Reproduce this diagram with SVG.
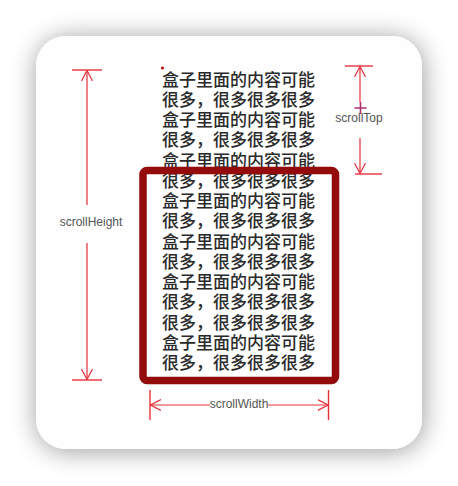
<svg xmlns="http://www.w3.org/2000/svg" width="458" height="486" viewBox="0 0 458 486">
  <defs>
    <filter id="shadow" x="-20%" y="-20%" width="140%" height="140%">
      <feGaussianBlur in="SourceAlpha" stdDeviation="13"/>
      <feOffset dx="1" dy="2" result="b"/>
      <feComponentTransfer><feFuncA type="linear" slope="0.4"/></feComponentTransfer>
      <feMerge><feMergeNode/><feMergeNode in="SourceGraphic"/></feMerge>
    </filter>
    <marker id="arr" viewBox="0 0 11 12" refX="10.5" refY="6" markerWidth="11" markerHeight="12" markerUnits="userSpaceOnUse" orient="auto">
      <path d="M0,0.5 L10.5,6 L0,11.5" fill="none" stroke="#e8303a" stroke-width="1.2"/>
    </marker>
    <style>
      .dim { stroke: #e8303a; stroke-width: 1.2; fill: none; }
      .tick { stroke: #e8303a; stroke-width: 1.4; fill: none; }
      .lbl { font-family: "Liberation Sans", Arial, sans-serif; font-size: 12px; fill: #555; text-anchor: middle; }
      .cn { font-family: "Noto Sans CJK SC", "Noto Sans", sans-serif; font-size: 17px; font-weight: 500; fill: #2a2a2a; }
    </style>
  </defs>

  <rect width="458" height="486" fill="#ffffff"/>
  <rect id="card" x="36" y="36" width="386" height="413" rx="30" ry="30" fill="#fdfefd" filter="url(#shadow)"/>

  <g id="content-text" class="cn">
    <text x="162" y="85.5">盒子里面的内容可能</text>
    <text x="162" y="105.75">很多，很多很多很多</text>
    <text x="162" y="126">盒子里面的内容可能</text>
    <text x="162" y="146.25">很多，很多很多很多</text>
    <text x="162" y="166.5">盒子里面的内容可能</text>
    <text x="162" y="186.75">很多，很多很多很多</text>
    <text x="162" y="207">盒子里面的内容可能</text>
    <text x="162" y="227.25">很多，很多很多很多</text>
    <text x="162" y="247.5">盒子里面的内容可能</text>
    <text x="162" y="267.75">很多，很多很多很多</text>
    <text x="162" y="288">盒子里面的内容可能</text>
    <text x="162" y="308.25">很多，很多很多很多</text>
    <text x="162" y="328.5">很多，很多很多很多</text>
    <text x="162" y="348.75">盒子里面的内容可能</text>
    <text x="162" y="369">很多，很多很多很多</text>
  </g>
  <circle cx="162.5" cy="68" r="1.6" fill="#c01010"/>

  <g id="visible-box">
    <rect x="143" y="170.5" width="192.5" height="210" rx="4" ry="4" fill="none" stroke="#930b0b" stroke-width="7.5"/>
  </g>

  <g id="connectors">
    <!-- scrollHeight -->
    <line class="tick" x1="72" y1="70" x2="102" y2="70"/>
    <line class="tick" x1="72" y1="380" x2="102" y2="380"/>
    <line class="dim" x1="87" y1="205" x2="87" y2="70.5" marker-end="url(#arr)"/>
    <line class="dim" x1="87" y1="243" x2="87" y2="379.5" marker-end="url(#arr)"/>
    <!-- scrollTop -->
    <line class="tick" x1="345" y1="66" x2="373" y2="66"/>
    <line class="tick" x1="355" y1="174" x2="382" y2="174"/>
    <line class="dim" x1="360" y1="102" x2="360" y2="66.5" marker-end="url(#arr)"/>
    <line class="dim" x1="360" y1="138" x2="360" y2="173.5" marker-end="url(#arr)"/>
    <!-- scrollWidth -->
    <line class="tick" x1="150" y1="390" x2="150" y2="420"/>
    <line class="tick" x1="328.5" y1="390" x2="328.5" y2="420"/>
    <line class="dim" x1="210" y1="405" x2="150.5" y2="405" marker-end="url(#arr)"/>
    <line class="dim" x1="268" y1="405" x2="328" y2="405" marker-end="url(#arr)"/>
  </g>

  <g id="labels">
    <text class="lbl" x="91" y="226">scrollHeight</text>
    <text class="lbl" x="359" y="122">scrollTop</text>
    <text class="lbl" x="239" y="408">scrollWidth</text>
  </g>

  <g id="cursor">
    <path d="M360.5,102 V114 M354.5,108 H366.5" stroke="#b0306e" stroke-width="1.6" fill="none"/>
  </g>
</svg>
